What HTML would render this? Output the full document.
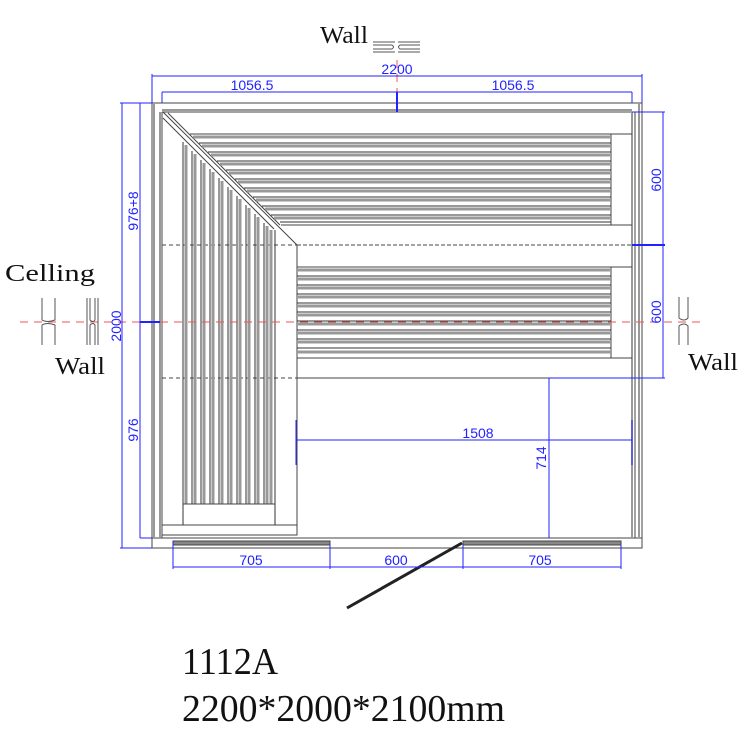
<!DOCTYPE html>
<html><head><meta charset="utf-8"><style>html,body{margin:0;padding:0;background:#fff}svg{display:block}</style></head>
<body>
<svg width="750" height="750" viewBox="0 0 750 750" xmlns="http://www.w3.org/2000/svg">
<g fill="none" stroke="#444" stroke-width="1">
<rect x="152" y="103" width="490" height="445"/>
<line x1="152" y1="538" x2="642" y2="538"/>
<line x1="162" y1="110" x2="632" y2="110" stroke="#999" stroke-width="2"/>
<line x1="162" y1="112" x2="632" y2="112"/>
<line x1="154" y1="103" x2="154" y2="538" stroke="#999" stroke-width="2"/>
<line x1="160" y1="112" x2="160" y2="538" stroke="#999" stroke-width="2"/>
<line x1="162" y1="112" x2="162" y2="538"/>
<line x1="632" y1="112" x2="632" y2="538" stroke="#999" stroke-width="2"/>
<line x1="635" y1="112" x2="635" y2="538"/>
<line x1="639" y1="103" x2="639" y2="538" stroke="#999" stroke-width="2"/>
<rect x="173" y="541" width="157" height="4" fill="#888"/>
<rect x="463" y="541" width="158" height="4" fill="#888"/>
<line x1="462" y1="543" x2="347" y2="608" stroke="#222" stroke-width="3"/>
<line x1="163" y1="112" x2="297" y2="245"/>
<line x1="163" y1="118" x2="274" y2="229"/>
<line x1="168" y1="113" x2="280" y2="225"/>
<line x1="190" y1="134" x2="632" y2="134"/>
<line x1="281" y1="225" x2="632" y2="225"/>
<line x1="611" y1="134" x2="611" y2="225"/>
<g stroke="#999" stroke-width="3">
<line x1="193" y1="137" x2="611" y2="137"/><line x1="202" y1="146" x2="611" y2="146"/><line x1="211" y1="155" x2="611" y2="155"/><line x1="220" y1="164" x2="611" y2="164"/><line x1="229" y1="173" x2="611" y2="173"/><line x1="238" y1="182" x2="611" y2="182"/><line x1="247" y1="191" x2="611" y2="191"/><line x1="256" y1="200" x2="611" y2="200"/><line x1="265" y1="209" x2="611" y2="209"/><line x1="274" y1="218" x2="611" y2="218"/>
</g>
<g stroke="#333">
<line x1="199" y1="143" x2="611" y2="143"/><line x1="208" y1="152" x2="611" y2="152"/><line x1="217" y1="161" x2="611" y2="161"/><line x1="226" y1="170" x2="611" y2="170"/><line x1="235" y1="179" x2="611" y2="179"/><line x1="244" y1="188" x2="611" y2="188"/><line x1="253" y1="197" x2="611" y2="197"/><line x1="262" y1="206" x2="611" y2="206"/><line x1="271" y1="215" x2="611" y2="215"/><line x1="280" y1="222" x2="611" y2="222"/>
</g>
<line x1="162" y1="245" x2="297" y2="245" stroke-dasharray="4,3"/>
<line x1="297" y1="245" x2="632" y2="245" stroke-dasharray="4,2"/>
<line x1="162" y1="378" x2="297" y2="378" stroke-dasharray="4,3"/>
<line x1="297" y1="378" x2="632" y2="378"/>
<line x1="297" y1="245" x2="297" y2="535"/>
<line x1="297" y1="267" x2="632" y2="267"/>
<line x1="297" y1="358" x2="632" y2="358"/>
<line x1="611" y1="267" x2="611" y2="358"/>
<g stroke="#999" stroke-width="3">
<line x1="297" y1="270" x2="611" y2="270"/><line x1="297" y1="279" x2="611" y2="279"/><line x1="297" y1="288" x2="611" y2="288"/><line x1="297" y1="297" x2="611" y2="297"/><line x1="297" y1="306" x2="611" y2="306"/><line x1="297" y1="315" x2="611" y2="315"/><line x1="297" y1="324" x2="611" y2="324"/><line x1="297" y1="333" x2="611" y2="333"/><line x1="297" y1="342" x2="611" y2="342"/><line x1="297" y1="352" x2="611" y2="352"/>
</g>
<g stroke="#333">
<line x1="297" y1="276" x2="611" y2="276"/><line x1="297" y1="285" x2="611" y2="285"/><line x1="297" y1="294" x2="611" y2="294"/><line x1="297" y1="303" x2="611" y2="303"/><line x1="297" y1="312" x2="611" y2="312"/><line x1="297" y1="321" x2="611" y2="321"/><line x1="297" y1="330" x2="611" y2="330"/><line x1="297" y1="339" x2="611" y2="339"/><line x1="297" y1="348" x2="611" y2="348"/>
</g>
<g stroke="#999" stroke-width="3">
<line x1="186" y1="145" x2="186" y2="504"/><line x1="195" y1="154" x2="195" y2="504"/><line x1="204" y1="163" x2="204" y2="504"/><line x1="213" y1="172" x2="213" y2="504"/><line x1="222" y1="181" x2="222" y2="504"/><line x1="231" y1="190" x2="231" y2="504"/><line x1="240" y1="199" x2="240" y2="504"/><line x1="249" y1="208" x2="249" y2="504"/><line x1="258" y1="217" x2="258" y2="504"/><line x1="267" y1="226" x2="267" y2="504"/><line x1="271" y1="230" x2="271" y2="504"/>
</g>
<g stroke="#333">
<line x1="183" y1="142" x2="183" y2="525"/><line x1="192" y1="151" x2="192" y2="504"/><line x1="201" y1="160" x2="201" y2="504"/><line x1="210" y1="169" x2="210" y2="504"/><line x1="219" y1="178" x2="219" y2="504"/><line x1="228" y1="187" x2="228" y2="504"/><line x1="237" y1="196" x2="237" y2="504"/><line x1="246" y1="205" x2="246" y2="504"/><line x1="255" y1="214" x2="255" y2="504"/><line x1="264" y1="223" x2="264" y2="504"/><line x1="275" y1="230" x2="275" y2="525"/>
</g>
<line x1="183" y1="504" x2="275" y2="504"/>
<rect x="162" y="525" width="135" height="10"/>
</g>
<g stroke="#e55" stroke-width="1" stroke-dasharray="8,6" fill="none">
<line x1="20" y1="322" x2="700" y2="322"/>
<line x1="397" y1="60" x2="397" y2="110"/>
</g>
<g stroke="#22f" stroke-width="1" fill="none">
<line x1="152" y1="76" x2="642" y2="76"/><line x1="152" y1="74" x2="152" y2="103"/><line x1="642" y1="74" x2="642" y2="103"/>
<line x1="162" y1="92" x2="632" y2="92"/><line x1="162" y1="92" x2="162" y2="103"/><line x1="632" y1="92" x2="632" y2="103"/>
<line x1="397" y1="92" x2="397" y2="112" stroke-width="2"/>
<line x1="122" y1="103" x2="122" y2="548"/><line x1="120" y1="103" x2="152" y2="103"/><line x1="120" y1="548" x2="152" y2="548"/>
<line x1="140" y1="103" x2="140" y2="538"/><line x1="140" y1="538" x2="152" y2="538"/>
<line x1="140" y1="322" x2="160" y2="322" stroke-width="2"/>
<line x1="663" y1="112" x2="663" y2="378"/><line x1="632" y1="112" x2="665" y2="112"/><line x1="632" y1="245" x2="665" y2="245" stroke-width="2"/><line x1="549" y1="378" x2="665" y2="378"/>
<line x1="296" y1="440" x2="632" y2="440"/><line x1="296" y1="420" x2="296" y2="465"/><line x1="632" y1="420" x2="632" y2="465"/>
<line x1="549" y1="378" x2="549" y2="538"/>
<line x1="173" y1="567" x2="621" y2="567"/>
<line x1="173" y1="541" x2="173" y2="569"/><line x1="330" y1="545" x2="330" y2="569"/><line x1="463" y1="545" x2="463" y2="569"/><line x1="621" y1="545" x2="621" y2="569"/>
</g>
<g font-family="Liberation Sans, sans-serif" font-size="14" fill="#22f" text-anchor="middle">
<text x="397" y="74">2200</text>
<text x="252" y="90">1056.5</text>
<text x="513" y="90">1056.5</text>
<text x="478" y="438">1508</text>
<text x="251" y="565">705</text>
<text x="396" y="565">600</text>
<text x="540" y="565">705</text>
<text transform="translate(138,211) rotate(-90)">976+8</text>
<text transform="translate(121,326) rotate(-90)">2000</text>
<text transform="translate(138,430) rotate(-90)">976</text>
<text transform="translate(546,458) rotate(-90)">714</text>
<text transform="translate(661,180) rotate(-90)">600</text>
<text transform="translate(661,312) rotate(-90)">600</text>
</g>
<g stroke="#555" fill="none" stroke-width="1">
<path d="M373 42 H395 M373 45 H392 Q395 47 392 49 H373 M373 52 H395"/>
<path d="M420 42 H398 M420 45 H400 Q397 47 400 49 H420 M420 52 H398"/>
<path d="M42 298 V320 Q47 323 55 320 V298 M42 345 V325 Q47 322 55 325 V345"/>
<path d="M87 298 V345 M90 298 V320 Q93 323 95 320 V298 M90 345 V325 Q93 322 95 325 V345 M98 298 V345"/>
<path d="M679 297 V318 Q684 322 688 318 V297 M679 345 V326 Q684 322 688 326 V345"/>
</g>
<g font-family="Liberation Serif, serif" font-size="24" fill="#111">
<text x="320" y="43" textLength="48" lengthAdjust="spacingAndGlyphs">Wall</text>
<text x="5" y="281" textLength="90" lengthAdjust="spacingAndGlyphs">Celling</text>
<text x="55" y="374" textLength="50" lengthAdjust="spacingAndGlyphs">Wall</text>
<text x="688" y="370" textLength="50" lengthAdjust="spacingAndGlyphs">Wall</text>
</g>
<g font-family="Liberation Serif, serif" font-size="38" fill="#111">
<text x="182" y="674" textLength="96" lengthAdjust="spacingAndGlyphs">1112A</text>
<text x="182" y="721" textLength="323" lengthAdjust="spacingAndGlyphs">2200*2000*2100mm</text>
</g>
</svg>
</body></html>
